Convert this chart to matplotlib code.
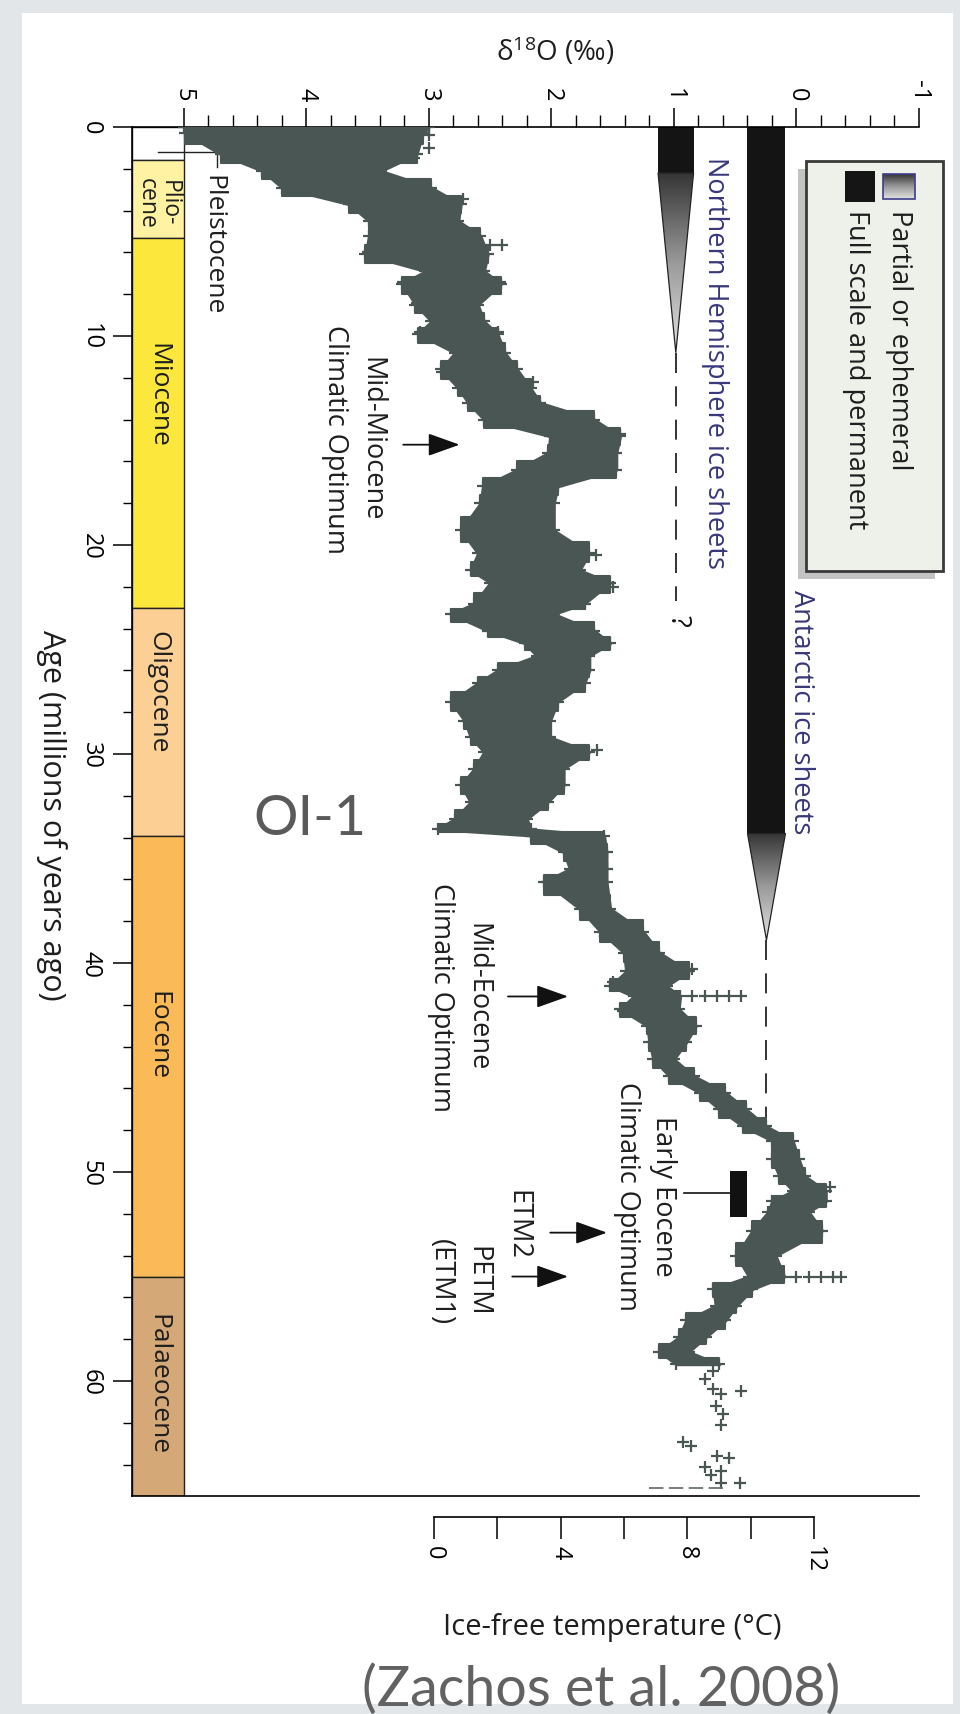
import numpy as np
import matplotlib.pyplot as plt
from matplotlib.patches import Rectangle, Polygon
from matplotlib.colors import LinearSegmentedColormap

plt.rcParams['font.family'] = ['Open Sans', 'DejaVu Sans']

W, H = 960, 1715

# d18O cloud: heavy (left) and light (right) edge per age (Ma)
band_age = [0.0, 0.3, 1.3, 2.1, 2.9, 3.7, 4.5, 5.2, 6.1, 6.9, 7.5, 8.5, 9.3, 9.9, 10.8,
            11.6, 12.5, 13.2, 14.0, 14.8, 15.6, 16.4, 17.2, 18.0, 19.3, 20.4, 21.2, 21.8,
            22.8, 23.3, 24.1, 24.7, 25.3, 26.0, 26.6, 27.5, 28.4, 29.2, 29.9, 30.7, 31.5,
            32.3, 33.1, 33.6, 33.9, 34.7, 35.5, 36.1, 37.4, 38.5, 39.5, 40.4, 41.1, 41.6,
            42.2, 43.0, 43.8, 44.6, 45.4, 46.2, 47.0, 47.8, 48.5, 49.4, 50.2, 50.9, 51.4,
            51.9, 52.8, 54.0, 55.0, 55.6, 56.4, 57.1, 57.9, 58.6, 59.2]
band_hi = [5.0, 4.99, 4.7, 4.36, 4.2, 3.65, 3.49, 3.49, 3.52, 3.03, 3.22, 3.11, 2.98, 3.09, 2.79,
           2.9, 2.76, 2.68, 2.55, 2.01, 2.03, 2.28, 2.56, 2.58, 2.74, 2.6, 2.66, 2.5,
           2.63, 2.82, 2.52, 2.22, 2.12, 2.44, 2.6, 2.82, 2.71, 2.66, 2.55, 2.63, 2.74,
           2.66, 2.79, 2.93, 2.17, 1.9, 1.85, 2.06, 1.77, 1.6, 1.41, 1.39, 1.52, 1.33,
           1.44, 1.22, 1.2, 1.17, 1.04, 0.79, 0.63, 0.44, 0.2, 0.2, 0.14, 0.03, 0.2,
           0.23, 0.36, 0.49, 0.39, 0.68, 0.66, 0.9, 0.96, 1.12, 0.98]
band_lo = [3.0, 3.05, 3.1, 3.39, 2.98, 2.74, 2.76, 2.58, 2.52, 2.55, 2.41, 2.6, 2.55, 2.44, 2.38,
           2.28, 2.17, 2.09, 1.65, 1.44, 1.47, 1.47, 1.95, 1.98, 1.98, 1.69, 1.77, 1.52,
           1.73, 1.98, 1.65, 1.52, 1.69, 1.69, 1.73, 1.95, 2.01, 2.01, 1.69, 1.9, 1.9,
           2.03, 2.2, 2.17, 1.57, 1.55, 1.55, 1.55, 1.52, 1.25, 1.12, 0.88, 1.06, 0.95,
           0.96, 0.82, 0.9, 1.0, 0.84, 0.58, 0.41, 0.25, 0.03, -0.02, -0.07, -0.24, -0.24,
           -0.1, -0.21, 0.17, 0.1, 0.36, 0.49, 0.58, 0.74, 0.88, 0.63]

# loose crosses sticking out of the band
spot_age = [0.4, 1.0, 1.5, 3.45, 5.65, 5.65, 6.0, 6.0, 7.4, 7.4, 7.4, 8.4, 9.8, 9.8, 11.7, 11.7,
            12.2, 14.7, 20.5, 22.0, 29.8, 36.1, 40.3, 40.9, 42.3, 41.6, 41.6, 41.6, 41.6, 41.6,
            50.7, 53.1, 54.0, 55.0, 55.0, 55.0, 55.0, 55.0]
spot_d18o = [3.0, 3.0, 3.12, 2.72, 2.5, 2.4, 3.5, 3.38, 3.21, 3.07, 2.42, 3.1, 3.07, 2.44, 2.89, 2.8,
             2.15, 1.44, 1.64, 1.5, 1.63, 2.04, 0.85, 1.5, 1.42, 0.85, 0.75, 0.65, 0.55, 0.45,
             -0.27, 0.3, 0.46, 0.0, -0.1, -0.2, -0.3, -0.36]

# sparse Palaeocene crosses
sparse_age = [59.5, 59.9, 60.4, 60.6, 60.5, 61.2, 61.6, 62.1, 62.9, 63.1, 63.6, 63.7, 64.1,
              64.3, 64.5, 64.9, 64.9]
sparse_d18o = [0.68, 0.75, 0.68, 0.62, 0.45, 0.66, 0.6, 0.62, 0.93, 0.86, 0.65, 0.55, 0.75,
               0.62, 0.7, 0.62, 0.46]
base_dash_age = 65.1
base_dash_d18o = [1.2, 0.58]

epoch_names = ['', 'Plio-\ncene', 'Miocene', 'Oligocene', 'Eocene', 'Palaeocene']
epoch_start = [0.0, 1.6, 5.3, 23.0, 33.9, 55.0]
epoch_end = [1.6, 5.3, 23.0, 33.9, 55.0, 65.5]
epoch_label_age = [0.8, 3.6, 12.8, 27.0, 43.4, 60.1]
epoch_colors = ['#ffffff', '#fff2a2', '#fce83c', '#fccf94', '#fbba58', '#d5a877']

d18o_ticks = [5, 4, 3, 2, 1, 0, -1]
age_ticks = [0, 10, 20, 30, 40, 50, 60]
temp_ticks = [0, 4, 8, 12]

# ice sheets: heavy edge, light edge, end of full, end of partial, end of dashed
ice_names = ['Northern Hemisphere ice sheets', 'Antarctic ice sheets']
ice_left = [1.13, 0.40]
ice_right = [0.84, 0.09]
ice_full_end = [2.2, 33.8]
ice_partial_end = [10.8, 38.9]
ice_dash_end = [22.7, 48.2]

cloud = '#4a5654'
navy = '#38377a'
ink = '#1e1e1e'
fs = 19.5
ice_cmap = LinearSegmentedColormap.from_list('ice', ['#353535', '#9a9a9a', '#e2e2e2'])
grad = np.linspace(0, 1, 256)[:, None]

fig = plt.figure(figsize=(W / 100, H / 100), dpi=100, facecolor='#e3e6e9')

# white panel behind everything
ax_bg = fig.add_axes([0, 0, 1, 1], zorder=-1)
ax_bg.set_xlim(0, W)
ax_bg.set_ylim(H, 0)
ax_bg.axis('off')
ax_bg.add_patch(Rectangle((22, 14), 931, 1691, color='white', lw=0))

# main panel: x = d18O (reversed), y = age (down)
ax = fig.add_axes([132 / W, 1 - 1497 / H, (919 - 132) / W, (1497 - 128) / H], zorder=1)
ax.patch.set_alpha(0)

# epoch column
for name, a0, a1, col, la in zip(epoch_names, epoch_start, epoch_end, epoch_colors, epoch_label_age):
    ax.add_patch(Rectangle((5.424, a0), -0.424, a1 - a0, fc=col, ec='#222', lw=1, zorder=2))
    if name:
        size = 16.5 if '\n' in name else 19
        ax.text(5.212, la, name, rotation=270, ha='center', va='center', fontsize=size,
                linespacing=0.9, color=ink, zorder=3)
ax.plot([5.21, 4.73, 4.73], [1.2, 1.2, 1.9], color='#222', lw=1, zorder=3)
ax.text(4.76, 2.25, 'Pleistocene', rotation=270, ha='center', va='top', fontsize=19, color=ink)

# ice sheet bars
for i in range(2):
    l, r = ice_left[i], ice_right[i]
    mid = (l + r) / 2
    ax.add_patch(Rectangle((l, 0), r - l, ice_full_end[i], color='#141414', lw=0, zorder=2))
    tri = Polygon([(l, ice_full_end[i]), (r, ice_full_end[i]), (mid, ice_partial_end[i])],
                  closed=True, fc='none', ec='#222', lw=0.9, zorder=3)
    ax.add_patch(tri)
    im = ax.imshow(grad, extent=[l, r, ice_partial_end[i], ice_full_end[i]], cmap=ice_cmap,
                   aspect='auto', interpolation='bilinear', zorder=2)
    im.set_clip_path(tri)
    ax.plot([mid, mid], [ice_partial_end[i], ice_dash_end[i]], color='#111', lw=1.2,
            dashes=(12, 8), zorder=2)
ax.text(0.97, 23.6, '?', rotation=270, ha='center', va='center', fontsize=fs, color='#111')
ax.text(0.665, 1.4, ice_names[0], rotation=270, ha='center', va='top', fontsize=fs, color=navy)
ax.text(-0.04, 22.1, ice_names[1], rotation=270, ha='center', va='top', fontsize=fs, color=navy)

# d18O cloud: solid band with ragged, cross-studded edges
ax.fill_betweenx(band_age, band_hi, band_lo, fc=cloud, ec=cloud, lw=2, zorder=4)
ax.fill_betweenx(band_age, band_hi, band_lo, fc=cloud, ec=cloud, lw=1.5, step='mid', zorder=4)
for xs, ys in [(band_hi, band_age), (band_lo, band_age), (spot_d18o, spot_age),
               (sparse_d18o, sparse_age)]:
    ax.plot(xs, ys, '+', color=cloud, ms=8.5, mew=1.6, zorder=4)
ax.plot(base_dash_d18o, [base_dash_age] * 2, color='#6a7472', lw=1.3, dashes=(8, 3), zorder=4)

# event labels and arrows
arrow = dict(arrowstyle='-|>,head_length=1.4,head_width=0.5', mutation_scale=14, lw=1.3,
             color='#111', shrinkA=0, shrinkB=0)
ax.text(3.62, 14.9, 'Mid-Miocene\nClimatic Optimum', rotation=270, ha='center', va='center',
        multialignment='center', fontsize=fs, linespacing=1.4, color=ink)
ax.annotate('', xy=(2.75, 15.2), xytext=(3.21, 15.2), arrowprops=arrow)
ax.text(2.755, 41.6, 'Mid-Eocene\nClimatic Optimum', rotation=270, ha='center', va='center',
        multialignment='center', fontsize=fs, linespacing=1.4, color=ink)
ax.annotate('', xy=(1.865, 41.6), xytext=(2.355, 41.6), arrowprops=arrow)
ax.text(1.237, 51.1, 'Early Eocene\nClimatic Optimum', rotation=270, ha='center', va='center',
        multialignment='center', fontsize=fs, linespacing=1.4, color=ink)
ax.plot([0.92, 0.543], [51.0, 51.0], color='#111', lw=1.2, zorder=3)
ax.add_patch(Rectangle((0.543, 49.95), -0.139, 2.2, color='#111', lw=0, zorder=3))
ax.text(2.28, 52.5, 'ETM2', rotation=270, ha='center', va='center', fontsize=fs, color=ink)
ax.annotate('', xy=(1.547, 52.9), xytext=(2.01, 52.9), arrowprops=arrow)
ax.text(2.755, 55.2, 'PETM\n(ETM1)', rotation=270, ha='center', va='center',
        multialignment='center', fontsize=fs, linespacing=1.4, color=ink)
ax.annotate('', xy=(1.865, 55.0), xytext=(2.32, 55.0), arrowprops=arrow)
ax.text(3.97, 33.1, 'OI-1', ha='center', va='center', fontsize=40, color='#5a5a5a',
        family=['Lato', 'DejaVu Sans'])

# axes styling
ax.set_xlim(5.424, -1.0)
ax.set_ylim(65.5, 0)
ax.spines['right'].set_visible(False)
for s in ['top', 'left', 'bottom']:
    ax.spines[s].set_linewidth(1.2)
ax.xaxis.set_ticks_position('top')
ax.set_xticks(d18o_ticks)
ax.set_xticklabels([str(t) for t in d18o_ticks])
ax.set_xticks([round(v, 1) for v in np.arange(-1, 5.0, 0.2) if abs(v - round(v)) > 0.05], minor=True)
ax.tick_params(axis='x', which='major', direction='out', length=14, width=1.1, pad=5,
               labelsize=17, labelrotation=270)
ax.tick_params(axis='x', which='minor', direction='out', length=9, width=1.0)
ax.set_yticks(age_ticks)
ax.set_yticks([a for a in range(2, 65, 2) if a % 10], minor=True)
ax.tick_params(axis='y', which='major', direction='out', length=14, width=1.1, pad=7,
               labelsize=17, labelrotation=270)
ax.tick_params(axis='y', which='minor', direction='out', length=6.5, width=1.0)
for lab in ax.get_yticklabels():
    lab.set_verticalalignment('center')

# ice-free temperature scale
axt = fig.add_axes([434 / W, 1 - 1518 / H, 380 / W, 1 / H], zorder=1)
axt.patch.set_alpha(0)
axt.set_xlim(0, 12)
axt.set_yticks([])
for s in ['top', 'left', 'right']:
    axt.spines[s].set_visible(False)
axt.spines['bottom'].set_linewidth(1.2)
axt.set_xticks(temp_ticks)
axt.set_xticklabels([str(t) for t in temp_ticks])
axt.set_xticks([2, 6, 10], minor=True)
axt.tick_params(axis='x', which='both', direction='out', length=16, width=1.1, pad=4,
                labelsize=17, labelrotation=270)

# overlay: titles, legend, credit
ax_o = fig.add_axes([0, 0, 1, 1], zorder=3)
ax_o.patch.set_alpha(0)
ax_o.axis('off')
ax_o.text(555, 52, r'$\mathregular{\delta^{18}O}$ (‰)', ha='center', va='center', fontsize=20,
          color=ink)
ax_o.text(51, 815, 'Age (millions of years ago)', rotation=270, ha='center', va='center',
          fontsize=22, color=ink)
ax_o.text(612, 1628, 'Ice-free temperature (°C)', ha='center', va='center', fontsize=21,
          color=ink)
ax_o.text(601, 1690, '(Zachos et al. 2008)', ha='center', va='center', fontsize=40,
          color='#626262', family=['Lato', 'DejaVu Sans'])

ax_o.add_patch(Rectangle((798, 170), 137, 410, color='#7a7a7a', alpha=0.45, lw=0, zorder=1))
ax_o.add_patch(Rectangle((806, 162), 137, 410, fc='#eef0ea', ec='#3a3a3a', lw=2, zorder=1))
ax_o.add_patch(Rectangle((845, 172), 30, 31, color='#151515', lw=0, zorder=2))
ax_o.imshow(grad, extent=[883, 915, 200, 175], cmap=ice_cmap, aspect='auto',
            interpolation='bilinear', zorder=2)
ax_o.add_patch(Rectangle((883, 175), 32, 25, fc='none', ec='#3c3c8c', lw=1.2, zorder=3))
ax_o.text(899, 210, 'Partial or ephemeral', rotation=270, ha='center', va='top',
          fontsize=fs, color=ink, zorder=3)
ax_o.text(856, 210, 'Full scale and permanent', rotation=270, ha='center', va='top',
          fontsize=fs, color=ink, zorder=3)
ax_o.set_xlim(0, W)
ax_o.set_ylim(H, 0)

fig.savefig('out.png', dpi=100, facecolor=fig.get_facecolor())
